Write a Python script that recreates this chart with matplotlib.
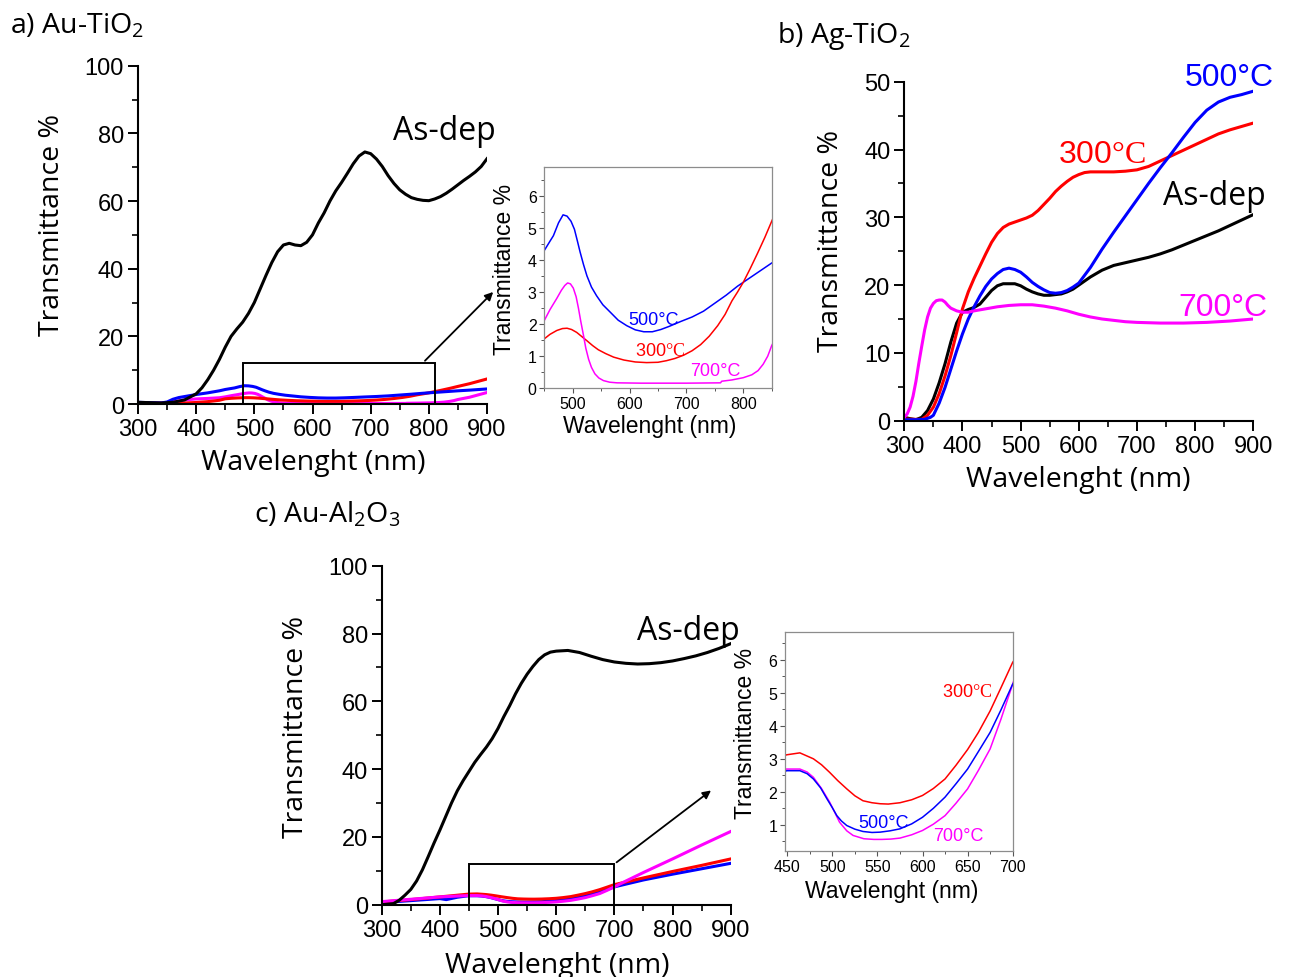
import numpy as np
import matplotlib
matplotlib.use("Agg")
import matplotlib.pyplot as plt
from matplotlib.patches import Rectangle
from matplotlib.ticker import MultipleLocator

plt.rcParams['font.family'] = ['Liberation Sans', 'DejaVu Sans']
plt.rcParams['mathtext.fontset'] = 'custom'
plt.rcParams['mathtext.rm'] = 'Open Sans'
plt.rcParams['mathtext.sf'] = 'Liberation Serif'

# ---------------- data: a) Au-TiO2 ----------------
a_wl_asdep = [300, 320, 340, 360, 380, 400, 410, 420, 430, 440, 450, 460, 470, 480, 490, 500,
              510, 520, 530, 540, 550, 560, 570, 580, 590, 600, 610, 620, 630, 640, 650, 660,
              670, 680, 690, 700, 710, 720, 730, 740, 750, 760, 770, 780, 790, 800, 810, 820,
              830, 840, 850, 860, 870, 880, 890, 900]
a_asdep = [0.5, 0.4, 0.3, 0.5, 1.2, 3.0, 4.8, 7.2, 10.0, 13.2, 16.8, 20.0, 22.2, 24.2, 26.8, 30.0,
           34.0, 38.0, 41.8, 45.0, 47.0, 47.5, 47.0, 46.8, 47.8, 50.0, 53.5, 56.5, 60.0, 63.0, 65.5, 68.2,
           71.0, 73.3, 74.5, 74.0, 72.4, 70.2, 67.5, 65.2, 63.3, 62.0, 61.0, 60.5, 60.2, 60.1, 60.6, 61.3,
           62.3, 63.5, 64.8, 66.1, 67.3, 68.6, 70.2, 72.5]

a_wl_500 = [300, 320, 340, 350, 360, 370, 380, 400, 420, 440, 450, 460, 466, 475, 483, 490, 497,
            503, 508, 513, 519, 525, 533, 542, 553, 566, 580, 595, 610, 625, 640, 655, 670, 690,
            710, 730, 750, 770, 790, 810, 830, 850, 870, 900]
a_500 = [0.5, 0.4, 0.3, 0.6, 1.4, 1.9, 2.2, 2.8, 3.3, 3.9, 4.29, 4.58, 4.75, 5.15, 5.4, 5.36, 5.2,
         4.95, 4.6, 4.24, 3.85, 3.5, 3.15, 2.88, 2.6, 2.37, 2.12, 1.95, 1.82, 1.76, 1.76, 1.83, 1.93, 2.08,
         2.22, 2.4, 2.65, 2.9, 3.18, 3.42, 3.66, 3.9, 4.1, 4.45]

a_wl_300 = [300, 320, 340, 360, 380, 400, 420, 440, 450, 460, 472, 482, 490, 498, 507, 516, 525,
            535, 545, 558, 572, 590, 610, 630, 650, 665, 680, 695, 710, 725, 740, 755, 768, 780,
            790, 800, 812, 825, 838, 850, 870, 900]
a_300 = [0.3, 0.25, 0.2, 0.25, 0.3, 0.45, 0.7, 1.1, 1.54, 1.68, 1.8, 1.86, 1.87, 1.83, 1.74, 1.61, 1.48,
         1.33, 1.2, 1.08, 0.97, 0.88, 0.82, 0.8, 0.81, 0.86, 0.93, 1.03, 1.17, 1.36, 1.62, 1.95, 2.3, 2.72,
         3.0, 3.3, 3.72, 4.2, 4.7, 5.2, 6.0, 7.4]

a_wl_700 = [300, 320, 340, 360, 380, 400, 420, 440, 450, 460, 472, 480, 486, 491, 496, 501, 506,
            510, 514, 519, 523, 528, 533, 539, 546, 554, 565, 578, 620, 700, 760, 762, 780, 800,
            815, 826, 835, 843, 850, 870, 900]
a_700 = [0.2, 0.2, 0.3, 0.6, 1.2, 1.5, 1.65, 1.85, 2.11, 2.45, 2.8, 3.05, 3.2, 3.28, 3.25, 3.12, 2.85,
         2.5, 2.1, 1.64, 1.25, 0.9, 0.65, 0.45, 0.32, 0.24, 0.19, 0.17, 0.16, 0.16, 0.17, 0.22, 0.26, 0.33,
         0.42, 0.55, 0.75, 1.0, 1.33, 2.0, 3.4]

# ---------------- data: b) Ag-TiO2 ----------------
b_wl_asdep = [300, 310, 320, 330, 340, 350, 360, 370, 380, 390, 400, 410, 420, 430, 440, 450, 460,
              470, 480, 490, 500, 510, 520, 530, 540, 550, 560, 570, 580, 590, 600, 620, 640, 660,
              680, 700, 720, 740, 760, 780, 800, 820, 840, 860, 880, 900]
b_asdep = [0.5, 0.3, 0.15, 0.5, 1.5, 3.2, 5.6, 8.4, 11.6, 14.4, 16.0, 16.4, 16.7, 17.2, 18.2, 19.2, 19.9,
           20.2, 20.2, 20.2, 19.9, 19.4, 19.0, 18.7, 18.5, 18.5, 18.6, 18.7, 19.0, 19.4, 20.0, 21.2, 22.2, 22.9,
           23.3, 23.7, 24.1, 24.6, 25.2, 25.9, 26.6, 27.3, 28.0, 28.8, 29.6, 30.4]

b_wl_300 = [300, 320, 330, 340, 350, 360, 370, 380, 390, 400, 410, 420, 430, 440, 450, 460, 470,
            480, 490, 500, 510, 520, 530, 540, 550, 560, 570, 580, 590, 600, 610, 620, 640, 660,
            680, 700, 720, 740, 760, 780, 800, 820, 840, 860, 880, 900]
b_300 = [0.25, 0.2, 0.2, 0.8, 2.0, 4.0, 6.6, 9.6, 13.0, 16.5, 19.0, 21.0, 22.8, 24.6, 26.3, 27.6, 28.5,
         29.0, 29.3, 29.6, 29.9, 30.3, 31.0, 31.9, 32.8, 33.8, 34.6, 35.3, 35.9, 36.3, 36.6, 36.7, 36.7, 36.7,
         36.8, 37.0, 37.5, 38.3, 39.1, 39.9, 40.7, 41.5, 42.3, 42.9, 43.4, 43.9]

b_wl_500 = [300, 320, 335, 345, 350, 360, 370, 380, 390, 400, 410, 420, 430, 440, 450, 460, 470,
            480, 490, 500, 510, 520, 530, 540, 550, 560, 570, 580, 590, 600, 620, 640, 660, 680,
            700, 720, 740, 760, 780, 800, 820, 840, 860, 880, 900]
b_500 = [0.15, 0.15, 0.2, 0.5, 0.8, 2.6, 4.9, 7.6, 10.3, 12.8, 15.0, 16.8, 18.4, 19.8, 20.9, 21.7, 22.3,
         22.5, 22.3, 21.9, 21.2, 20.4, 19.8, 19.3, 18.9, 18.8, 18.9, 19.2, 19.7, 20.3, 22.6, 25.3, 27.8, 30.2,
         32.6, 35.0, 37.3, 39.5, 41.8, 44.0, 45.8, 47.0, 47.7, 48.1, 48.6]

b_wl_700 = [300, 305, 310, 315, 320, 325, 330, 335, 340, 345, 350, 355, 360, 365, 370, 375, 380,
            390, 400, 410, 420, 440, 460, 480, 500, 520, 540, 560, 580, 600, 620, 640, 660, 680,
            700, 740, 780, 820, 860, 900]
b_700 = [0.5, 1.0, 2.0, 3.6, 5.8, 8.5, 11.0, 13.4, 15.3, 16.6, 17.3, 17.7, 17.8, 17.8, 17.5, 17.0, 16.6,
         16.2, 16.0, 16.0, 16.2, 16.5, 16.8, 17.0, 17.1, 17.1, 16.9, 16.6, 16.2, 15.7, 15.3, 15.0, 14.8, 14.6,
         14.5, 14.4, 14.4, 14.5, 14.7, 15.0]

# ---------------- data: c) Au-Al2O3 ----------------
c_wl_asdep = [300, 320, 330, 340, 350, 360, 370, 380, 390, 400, 410, 420, 430, 440, 450, 460, 470,
              480, 490, 500, 510, 520, 530, 540, 550, 560, 570, 580, 590, 600, 620, 640, 660, 680,
              700, 720, 740, 760, 780, 800, 820, 840, 860, 880, 900]
c_asdep = [0.0, 0.3, 1.3, 2.8, 4.5, 7.0, 10.3, 14.2, 18.2, 22.0, 26.0, 30.0, 33.6, 36.6, 39.3, 42.0, 44.3,
           46.5, 49.0, 52.0, 55.5, 58.7, 62.2, 65.3, 68.0, 70.3, 72.3, 73.7, 74.5, 74.8, 75.0, 74.4, 73.3, 72.3,
           71.6, 71.2, 71.0, 71.1, 71.4, 71.9, 72.6, 73.4, 74.4, 75.6, 77.0]

c_wl_300 = [300, 350, 400, 430, 449, 464, 479, 488, 497, 506, 516, 525, 534, 544, 553, 562, 575, 588,
            600, 612, 625, 637, 650, 662, 675, 687, 700, 750, 800, 850, 900]
c_300 = [0.8, 1.5, 2.3, 2.8, 3.12, 3.18, 3.0, 2.82, 2.59, 2.34, 2.09, 1.88, 1.73, 1.67, 1.64, 1.63, 1.67, 1.76,
         1.89, 2.1, 2.39, 2.8, 3.28, 3.8, 4.45, 5.15, 5.92, 7.9, 9.8, 11.6, 13.5]

c_wl_500 = [300, 350, 400, 411, 430, 449, 464, 472, 479, 487, 494, 500, 505, 510, 516, 525, 534, 544,
            553, 564, 575, 588, 600, 612, 625, 637, 650, 662, 675, 687, 700, 750, 800, 850, 900]
c_500 = [0.6, 1.2, 1.8, 1.5, 2.2, 2.64, 2.64, 2.55, 2.39, 2.12, 1.79, 1.52, 1.28, 1.12, 0.98, 0.87, 0.80, 0.77,
         0.78, 0.82, 0.88, 1.03, 1.23, 1.5, 1.84, 2.24, 2.69, 3.22, 3.8, 4.48, 5.26, 7.3, 9.0, 10.6, 12.2]

c_wl_700 = [300, 350, 400, 430, 449, 464, 472, 479, 488, 497, 503, 508, 516, 523, 535, 546, 555, 565,
            575, 588, 600, 612, 625, 637, 650, 662, 675, 687, 700, 720, 750, 800, 850, 900]
c_700 = [0.9, 1.6, 2.3, 2.55, 2.69, 2.69, 2.6, 2.44, 2.1, 1.69, 1.36, 1.08, 0.82, 0.68, 0.58, 0.56, 0.56, 0.57,
         0.6, 0.7, 0.83, 1.02, 1.28, 1.65, 2.09, 2.65, 3.3, 4.2, 5.26, 7.0, 9.5, 13.5, 17.6, 21.6]

x_ticks_main = [300, 400, 500, 600, 700, 800, 900]

# ---------------- figure ----------------
W, H = 1289, 978
fig = plt.figure(figsize=(W / 100, H / 100), dpi=100)

BLACK, RED, BLUE, MAG = '#000000', '#ff0000', '#0000ff', '#ff00ff'
SANS_LABEL = ['Open Sans', 'DejaVu Sans']


def box(l, t, r, b):
    return [l / W, 1 - b / H, (r - l) / W, (b - t) / H]


def ftext(x, y, s, **kw):
    fig.text(x / W, 1 - y / H, s, **kw)


def style_main(ax, ymax, ymajor, yminor):
    ax.set_xlim(300, 900)
    ax.set_ylim(0, ymax)
    for s in ['top', 'right']:
        ax.spines[s].set_visible(False)
    for s in ['left', 'bottom']:
        ax.spines[s].set_linewidth(1.5)
    ax.set_xticks(x_ticks_main)
    ax.xaxis.set_minor_locator(MultipleLocator(50))
    ax.yaxis.set_major_locator(MultipleLocator(ymajor))
    ax.yaxis.set_minor_locator(MultipleLocator(yminor))
    ax.tick_params(which='major', direction='out', length=7, width=1.4, labelsize=17, pad=3)
    ax.tick_params(which='minor', direction='out', length=4, width=1.2)
    ax.patch.set_alpha(0)


def style_inset(ax):
    for s in ax.spines.values():
        s.set_color('#8c8c8c')
        s.set_linewidth(0.9)
    ax.tick_params(which='major', direction='out', length=3.5, width=0.8, labelsize=11.5,
                   pad=2, color='#555555')
    ax.tick_params(which='minor', direction='out', length=2, width=0.7, color='#555555')


LW = 2.2
ILW = 1.1
LBL = 20.5
ILBL = 16.5

# ---- panel a main ----
ax_a = fig.add_axes(box(138, 66.7, 487, 405))
ax_a.plot(a_wl_700, a_700, color=MAG, lw=LW)
ax_a.plot(a_wl_300, a_300, color=RED, lw=LW)
ax_a.plot(a_wl_500, a_500, color=BLUE, lw=LW)
ax_a.plot(a_wl_asdep, a_asdep, color=BLACK, lw=LW)
style_main(ax_a, 100, 20, 10)
ax_a.add_patch(Rectangle((480, 0), 330, 12, fill=False, ec='k', lw=1.4, zorder=5, clip_on=False))
ax_a.annotate('', xy=(914, 33.7), xytext=(790, 12.2),
              arrowprops=dict(arrowstyle='-|>', color='k', lw=1.3, mutation_scale=12),
              annotation_clip=False)
ftext(393, 140, 'As-dep', fontsize=23, family=SANS_LABEL, color='k')
ftext(52.5, 225, 'Transmittance %', fontsize=LBL, family=SANS_LABEL, rotation=90,
      ha='center', va='center')
ftext(313, 470, 'Wavelenght (nm)', fontsize=LBL, family=SANS_LABEL, ha='center', va='baseline')
ftext(10, 33, 'a) Au-TiO$_2$', fontsize=20.5, family=SANS_LABEL, ha='left', va='baseline')

# ---- panel a inset ----
ax_ai = fig.add_axes(box(544.3, 168.3, 771.7, 389.3))
ax_ai.plot(a_wl_500, a_500, color=BLUE, lw=ILW)
ax_ai.plot(a_wl_300, a_300, color=RED, lw=ILW)
ax_ai.plot(a_wl_700, a_700, color=MAG, lw=ILW)
ax_ai.set_xlim(450, 850)
ax_ai.set_ylim(0, 6.88)
ax_ai.set_xticks([500, 600, 700, 800])
ax_ai.xaxis.set_minor_locator(MultipleLocator(50))
ax_ai.yaxis.set_major_locator(MultipleLocator(1))
ax_ai.yaxis.set_minor_locator(MultipleLocator(0.5))
style_inset(ax_ai)
ftext(628, 325, '500°C', fontsize=13, color=BLUE)
ftext(635, 356, '300$\\mathsf{°C}$', fontsize=13, color=RED)
ftext(690, 376, '700°C', fontsize=13, color=MAG)
ftext(505, 269, 'Transmittance %', fontsize=ILBL, rotation=90, ha='center', va='center')
ftext(649.5, 433, 'Wavelenght (nm)', fontsize=ILBL, ha='center', va='baseline')

# ---- panel b ----
ax_b = fig.add_axes(box(904.3, 82.7, 1253.3, 421.7))
ax_b.plot(b_wl_asdep, b_asdep, color=BLACK, lw=LW)
ax_b.plot(b_wl_300, b_300, color=RED, lw=LW)
ax_b.plot(b_wl_500, b_500, color=BLUE, lw=LW)
ax_b.plot(b_wl_700, b_700, color=MAG, lw=LW)
style_main(ax_b, 50, 10, 5)
ftext(1185, 86, '500°C', fontsize=23, color=BLUE)
ftext(1058, 163, '300$\\mathsf{°C}$', fontsize=23, color=RED)
ftext(1163, 205, 'As-dep', fontsize=23, family=SANS_LABEL, color='k')
ftext(1178, 316, '700°C', fontsize=23, color=MAG)
ftext(831, 241, 'Transmittance %', fontsize=LBL, family=SANS_LABEL, rotation=90,
      ha='center', va='center')
ftext(1078, 487, 'Wavelenght (nm)', fontsize=LBL, family=SANS_LABEL, ha='center', va='baseline')
ftext(777, 43, 'b) Ag-TiO$_2$', fontsize=20.5, family=SANS_LABEL, ha='left', va='baseline')

# ---- panel c main ----
ax_c = fig.add_axes(box(381.7, 566.7, 730.7, 905.7))
ax_c.plot(c_wl_500, c_500, color=BLUE, lw=LW)
ax_c.plot(c_wl_300, c_300, color=RED, lw=LW)
ax_c.plot(c_wl_700, c_700, color=MAG, lw=LW)
ax_c.plot(c_wl_asdep, c_asdep, color=BLACK, lw=LW)
style_main(ax_c, 100, 20, 10)
ax_c.add_patch(Rectangle((450, 0), 250, 12, fill=False, ec='k', lw=1.4, zorder=5, clip_on=False))
ax_c.annotate('', xy=(870, 34.2), xytext=(700, 12),
              arrowprops=dict(arrowstyle='-|>', color='k', lw=1.3, mutation_scale=12),
              annotation_clip=False)
ftext(637, 640, 'As-dep', fontsize=23, family=SANS_LABEL, color='k')
ftext(296, 727, 'Transmittance %', fontsize=LBL, family=SANS_LABEL, rotation=90,
      ha='center', va='center')
ftext(557, 973, 'Wavelenght (nm)', fontsize=LBL, family=SANS_LABEL, ha='center', va='baseline')
ftext(254, 522, 'c) Au-Al$_2$O$_3$', fontsize=20.5, family=SANS_LABEL, ha='left', va='baseline')

# ---- panel c inset ----
ax_ci = fig.add_axes(box(785, 633.3, 1013.3, 852.3))
ax_ci.plot(c_wl_300, c_300, color=RED, lw=ILW)
ax_ci.plot(c_wl_700, c_700, color=MAG, lw=ILW)
ax_ci.plot(c_wl_500, c_500, color=BLUE, lw=ILW)
ax_ci.set_xlim(447.5, 700.7)
ax_ci.set_ylim(0.2, 6.83)
ax_ci.set_xticks([450, 500, 550, 600, 650, 700])
ax_ci.xaxis.set_minor_locator(MultipleLocator(25))
ax_ci.yaxis.set_major_locator(MultipleLocator(1))
ax_ci.yaxis.set_minor_locator(MultipleLocator(0.5))
style_inset(ax_ci)
ftext(942, 697, '300$\\mathsf{°C}$', fontsize=13, color=RED)
ftext(858, 828, '500°C', fontsize=13, color=BLUE)
ftext(933, 841, '700°C', fontsize=13, color=MAG)
ftext(746, 733, 'Transmittance %', fontsize=ILBL, rotation=90, ha='center', va='center')
ftext(892, 898, 'Wavelenght (nm)', fontsize=ILBL, ha='center', va='baseline')

fig.savefig('out.png', dpi=100)
